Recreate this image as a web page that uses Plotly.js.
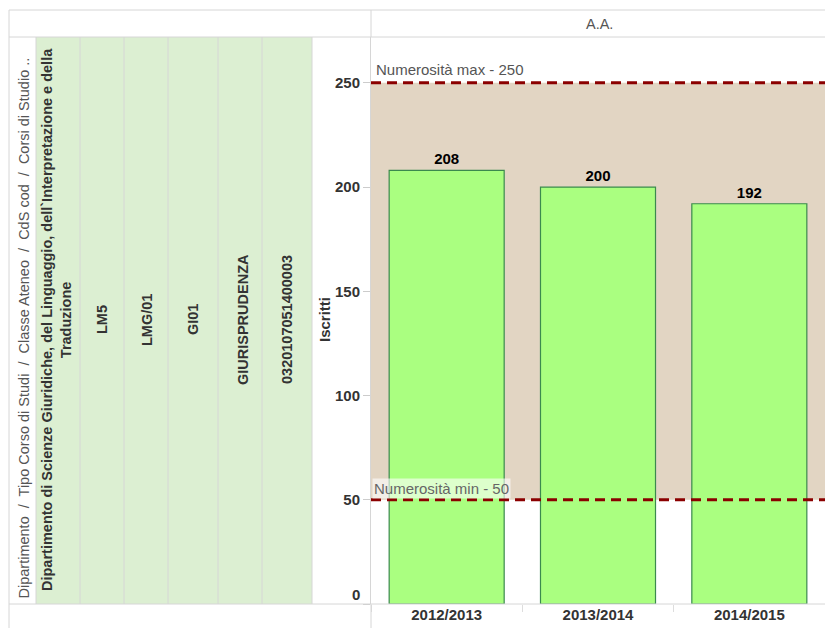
<!DOCTYPE html>
<html>
<head>
<meta charset="utf-8">
<script src="https://cdn.plot.ly/plotly-3.0.1.min.js"></script>
<style>html,body{margin:0;padding:0;background:#fff;}#chart{width:825px;height:628px;}</style>
</head>
<body>
<div id="chart"></div>
<script>
// ---- data ----
var years = ['2012/2013', '2013/2014', '2014/2015'];
var iscritti = [208, 200, 192];
var minNum = 50;
var maxNum = 250;
var yTicks = [0, 50, 100, 150, 200, 250];
var headerTitle = 'Dipartimento  /  Tipo Corso di Studi  /  Classe Ateneo  /  CdS cod  /  Corsi di Studio ..';
var rowHeaders = [
  'Dipartimento di Scienze Giuridiche, del Linguaggio, dell`Interpretazione e della<br>Traduzione',
  'LM5', 'LMG/01', 'GI01', 'GIURISPRUDENZA', '0320107051400003'
];
var columnTitle = 'A.A.';
var yTitle = 'Iscritti';

// ---- layout helpers (pixel -> paper) ----
var L = 371, R = 0, T = 37, B = 24, WW = 825, HH = 628;
var PW = WW - L - R, PH = HH - T - B;
function fx(px) { return (px - L) / PW; }
function fy(py) { return (HH - B - py) / PH; }
var FONT = 'Arial, "Liberation Sans", sans-serif';
var lineCol = '#d6d6d6';

var shapes = [];
function hline(y, x0, x1, col, w) {
  shapes.push({type: 'line', xref: 'paper', yref: 'paper', x0: fx(x0), x1: fx(x1), y0: fy(y), y1: fy(y), line: {color: col || lineCol, width: w || 1}, layer: 'above'});
}
function vline(x, y0, y1, col, w) {
  shapes.push({type: 'line', xref: 'paper', yref: 'paper', x0: fx(x), x1: fx(x), y0: fy(y0), y1: fy(y1), line: {color: col || lineCol, width: w || 1}, layer: 'above'});
}
// green row-header background
shapes.push({type: 'rect', xref: 'paper', yref: 'paper', x0: fx(36), x1: fx(312), y0: fy(604), y1: fy(37), fillcolor: '#dcefd2', line: {width: 0}, layer: 'below'});
// beige band between min and max
shapes.push({type: 'rect', xref: 'paper', yref: 'y', x0: 0, x1: 1, y0: minNum, y1: maxNum, fillcolor: '#e2d5c3', line: {width: 0}, layer: 'below'});
// dashed reference lines
[minNum, maxNum].forEach(function (v) {
  shapes.push({type: 'line', xref: 'paper', yref: 'y', x0: 0, x1: 1, y0: v, y1: v, line: {color: '#8b0000', width: 3, dash: '10px,6px'}, layer: 'above'});
});
// grid lines of the table
hline(10, 9, 825);
hline(37, 9, 825);
hline(604, 9, 825);
vline(9, 10, 628);
vline(371, 10, 37);
vline(371, 604, 628);
[36, 80, 124, 168, 218, 262, 312].forEach(function (x) { vline(x, 37, 604); });

var annotations = [];
annotations.push({xref: 'paper', yref: 'paper', x: fx(599), y: fy(24), text: columnTitle, showarrow: false, font: {family: FONT, size: 14.5, color: '#555'}, xanchor: 'center', yanchor: 'middle'});
annotations.push({xref: 'paper', yref: 'paper', x: fx(23), y: fy(601), text: headerTitle, textangle: -90, showarrow: false, font: {family: FONT, size: 14.5, color: '#555'}, xanchor: 'center', yanchor: 'bottom'});
var headerX = [56, 102, 147, 193, 243, 287];
rowHeaders.forEach(function (t, i) {
  annotations.push({xref: 'paper', yref: 'paper', x: fx(headerX[i]), y: fy(320), text: '<b>' + t + '</b>', textangle: -90, showarrow: false, font: {family: FONT, size: 14.5, color: '#333'}, xanchor: 'center', yanchor: 'middle'});
});
annotations.push({xref: 'paper', yref: 'paper', x: fx(324), y: fy(320), text: '<b>' + yTitle + '</b>', textangle: -90, showarrow: false, font: {family: FONT, size: 15, color: '#333'}, xanchor: 'center', yanchor: 'middle'});
annotations.push({xref: 'paper', yref: 'y', x: fx(374), y: maxNum, yshift: 3, text: 'Numerosità max - ' + maxNum, showarrow: false, font: {family: FONT, size: 15, color: '#555'}, xanchor: 'left', yanchor: 'bottom'});
annotations.push({xref: 'paper', yref: 'y', x: fx(372), y: minNum, yshift: 1, text: 'Numerosità min - ' + minNum, showarrow: false, font: {family: FONT, size: 15, color: '#666'}, bgcolor: 'rgba(255,255,255,0.6)', borderpad: 1, xanchor: 'left', yanchor: 'bottom'});
// "0" tick label sits a bit higher than the axis bottom
annotations.push({xref: 'paper', yref: 'y', x: fx(362), y: 0, yshift: 10, text: '<b>' + yTicks[0] + '</b>', showarrow: false, font: {family: FONT, size: 15, color: '#333'}, xanchor: 'right', yanchor: 'middle'});

var trace = {
  type: 'bar',
  x: years,
  y: iscritti,
  text: iscritti.map(String),
  texttemplate: '<b>%{text}</b>',
  textposition: 'outside',
  cliponaxis: false,
  textfont: {family: FONT, size: 15, color: '#000'},
  marker: {color: '#aaff80', line: {color: '#3b8a4e', width: 1.2}},
  hoverinfo: 'none'
};

var layout = {
  width: WW, height: HH,
  margin: {l: L, r: R, t: T, b: B, pad: 0},
  paper_bgcolor: '#fff', plot_bgcolor: '#fff',
  showlegend: false,
  bargap: 0.24,
  font: {family: FONT},
  xaxis: {
    type: 'category', range: [-0.5, 2.5], fixedrange: true,
    showgrid: false, zeroline: false, showline: false,
    ticks: 'outside', tickson: 'boundaries', ticklen: 7, tickcolor: '#dddddd',
    tickfont: {family: FONT, size: 15, color: '#333'},
    tickprefix: '<b>', ticksuffix: '</b>'
  },
  yaxis: {
    range: [0, 272], fixedrange: true,
    showgrid: false, zeroline: false,
    showline: true, linecolor: lineCol, linewidth: 1,
    ticks: 'outside', ticklen: 7, tickcolor: '#cccccc',
    tickvals: yTicks,
    ticktext: yTicks.map(function (v, i) { return i === 0 ? '' : '<b>' + v + '</b>'; }),
    tickfont: {family: FONT, size: 15, color: '#333'}
  },
  shapes: shapes,
  annotations: annotations
};

Plotly.newPlot('chart', [trace], layout, {displayModeBar: false, staticPlot: true});
</script>
</body>
</html>
